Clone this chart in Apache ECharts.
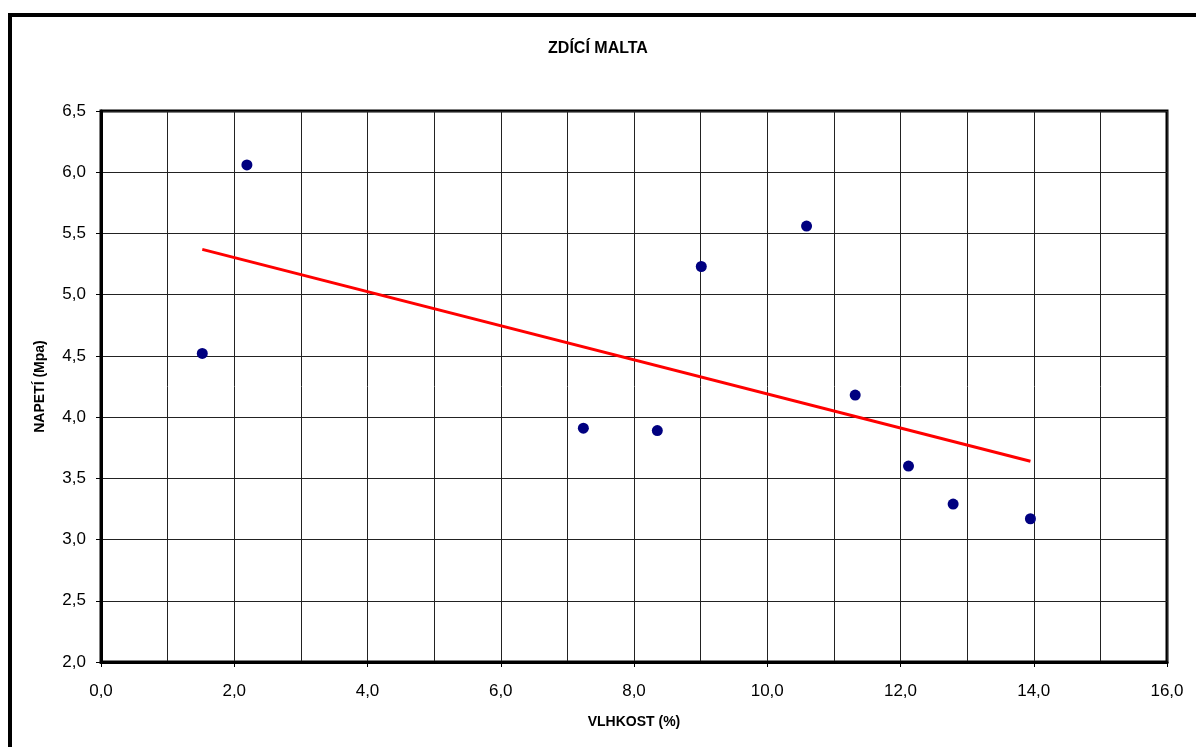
<!DOCTYPE html>
<html>
<head>
<meta charset="utf-8">
<script src="https://cdn.jsdelivr.net/npm/echarts@6/dist/echarts.min.js"></script>
<style>
html, body { margin: 0; padding: 0; background: #fff; }
#chart { width: 1196px; height: 747px; }
</style>
</head>
<body>
<div id="chart"></div>
<script>
// data
var vlhkost = [1.52, 2.19, 7.24, 8.35, 9.01, 10.59, 11.32, 12.12, 12.79, 13.95];
var napeti  = [4.52, 6.06, 3.91, 3.89, 5.23, 5.56, 4.18, 3.60, 3.29, 3.17];
// trend line end points
var trendX = [1.52, 13.95];
var trendY = [5.37, 3.64];

var font = 'Arial, "Liberation Sans", sans-serif';

function comma(v) {
	return v.toFixed(1).replace('.', ',');
}

var points = vlhkost.map(function (x, i) { return [x, napeti[i]]; });
var trend = trendX.map(function (x, i) { return [x, trendY[i]]; });

var myChart = echarts.init(document.getElementById('chart'));
var option = {
	animation : false,
	backgroundColor : '#fff',
	title : {
		text : 'ZDÍCÍ MALTA',
		left : 'center',
		top : 36,
		textStyle : { fontFamily : font, fontSize : 16, fontWeight : 'bold', color : '#000' }
	},
	graphic : [ {
		type : 'rect',
		shape : { x : 10, y : 15, width : 1200, height : 760 },
		style : { fill : 'none', stroke : '#000', lineWidth : 4 },
		silent : true
	} ],
	grid : {
		left : 101,
		right : 29,
		top : 111,
		bottom : 85,
		show : true,
		borderColor : '#000',
		borderWidth : 3
	},
	xAxis : {
		type : 'value',
		min : 0,
		max : 16,
		interval : 2,
		name : 'VLHKOST (%)',
		nameLocation : 'middle',
		nameGap : 53,
		nameTextStyle : { fontFamily : font, fontSize : 14, fontWeight : 'bold', color : '#000' },
		axisLine : { show : true, lineStyle : { color : '#000', width : 3 } },
		axisTick : { show : true, length : 5, lineStyle : { color : '#000' } },
		axisLabel : { fontFamily : font, fontSize : 17, color : '#000', margin : 21, formatter : comma },
		splitLine : { show : true, lineStyle : { color : '#222', width : 1 } },
		minorTick : { show : false, splitNumber : 2 },
		minorSplitLine : { show : true, lineStyle : { color : '#222', width : 1 } }
	},
	yAxis : {
		type : 'value',
		min : 2,
		max : 6.5,
		interval : 0.5,
		name : 'NAPETÍ (Mpa)',
		nameLocation : 'middle',
		nameGap : 54,
		nameTextStyle : { fontFamily : font, fontSize : 14, fontWeight : 'bold', color : '#000' },
		axisLine : { show : true, lineStyle : { color : '#000', width : 3 } },
		axisTick : { show : true, length : 5, lineStyle : { color : '#000' } },
		axisLabel : { fontFamily : font, fontSize : 17, color : '#000', margin : 15, formatter : comma },
		splitLine : { show : true, lineStyle : { color : '#222', width : 1 } }
	},
	series : [ {
		name : 'trend',
		type : 'line',
		data : trend,
		symbol : 'none',
		lineStyle : { color : '#ff0000', width : 3 },
		z : 2
	}, {
		name : 'NAPETÍ',
		type : 'scatter',
		data : points,
		symbolSize : 11,
		itemStyle : { color : '#000080', opacity : 1 },
		z : 3
	} ]
};
myChart.setOption(option);
</script>
</body>
</html>
